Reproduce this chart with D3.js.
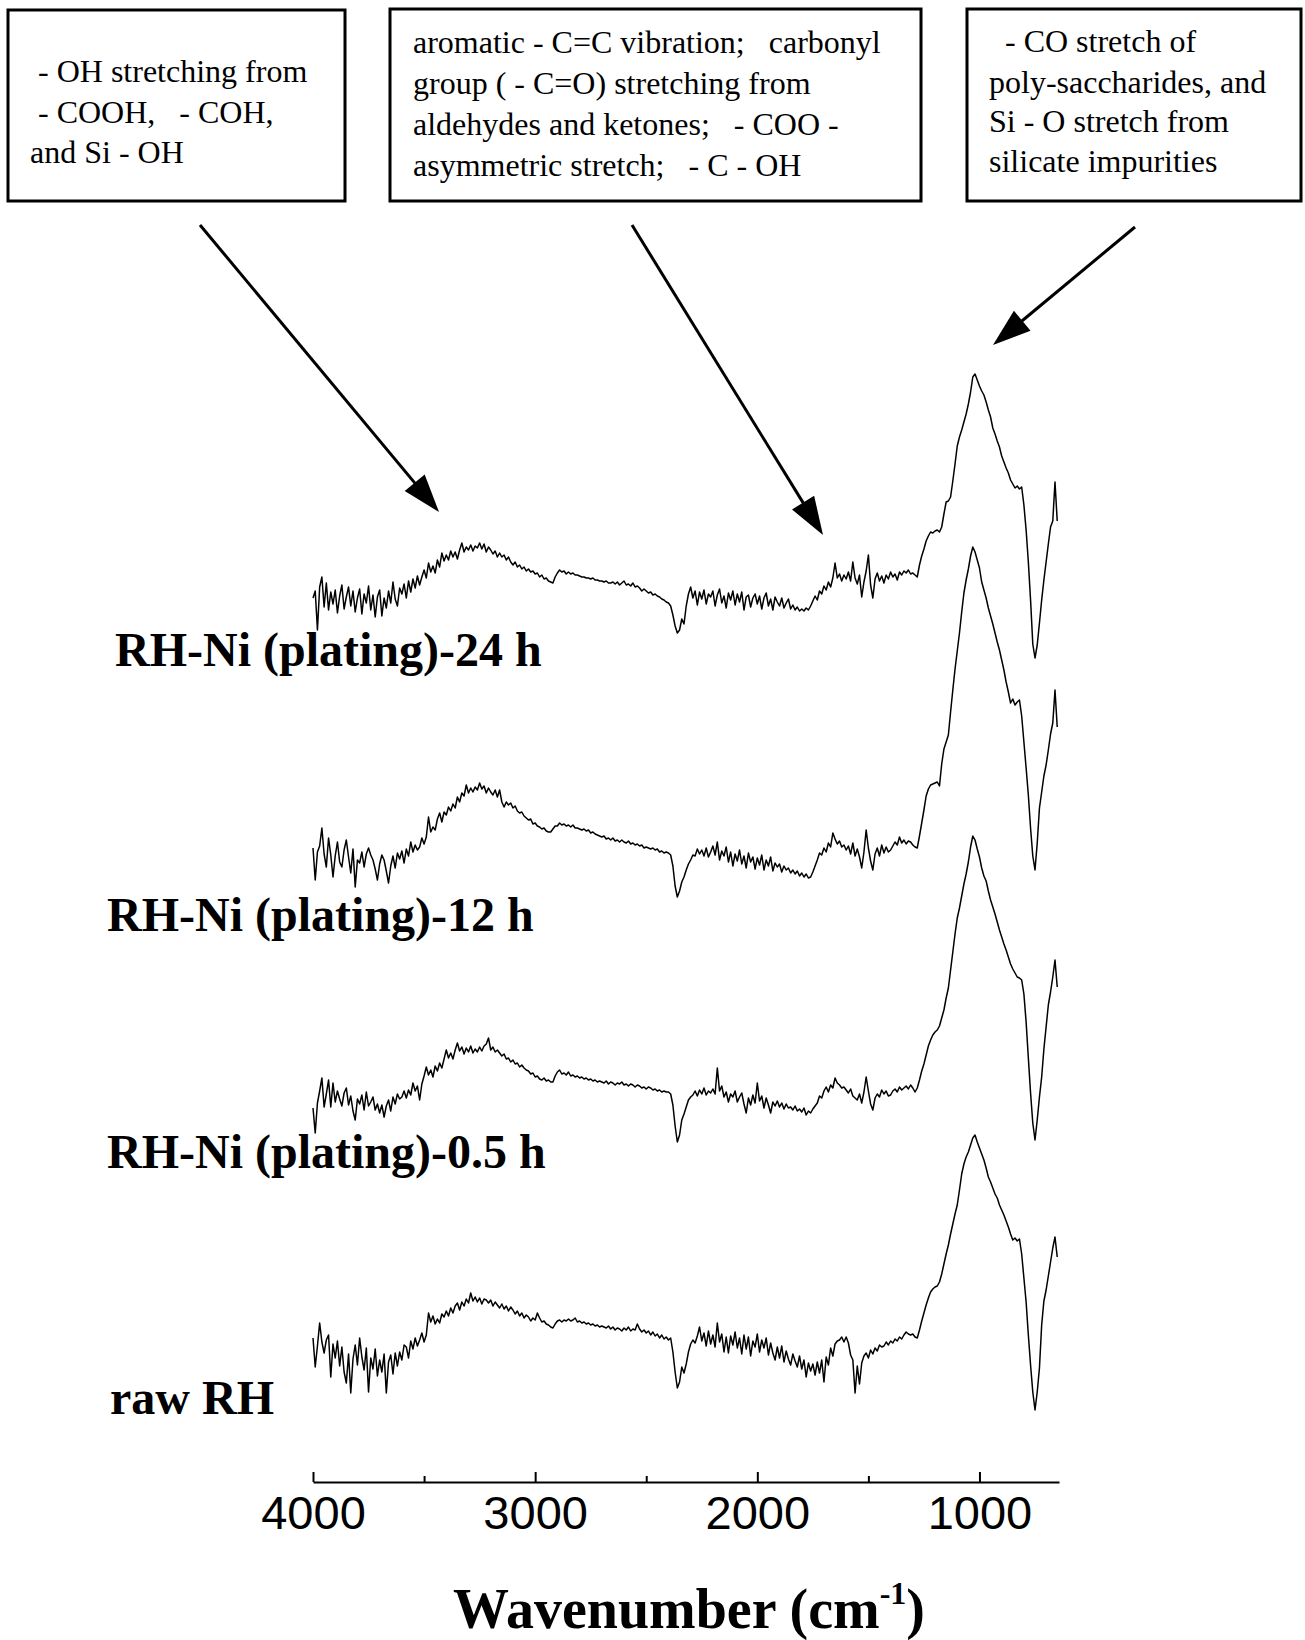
<!DOCTYPE html>
<html>
<head>
<meta charset="utf-8">
<script src="https://cdn.jsdelivr.net/npm/d3@7"></script>
<style>
  body { margin: 0; background: #fff; }
  text { white-space: pre; }
</style>
</head>
<body>
<svg id="chart" width="1305" height="1640"></svg>
<script>
// FTIR spectra of rice husk (RH) before and after Ni plating.
// Wavenumber grid: 4000 -> 650 cm-1 in 10 cm-1 steps (336 points).
const wnStart = 4000;
const wnStep = 10;

const seriesNames = [
  "RH-Ni (plating)-24 h",
  "RH-Ni (plating)-12 h",
  "RH-Ni (plating)-0.5 h",
  "raw RH"
];

// vertical offsets used to stack the spectra (a.u.)
const seriesOffsets = [88.2, 62.4, 38.2, 13.2];

const plating24h = [
  0.2, 0.9, -3.0, 1.3, 2.3, -0.7, 1.7, -1.0, 0.8, -0.4,
  1.0, -1.3, 0.4, 1.5, -0.9, 0.3, 1.3, -0.6, 0.9, -1.2,
  0.2, 1.1, -1.4, 0.6, -0.3, 1.4, -1.0, 0.5, -1.7, 0.3,
  1.0, -1.6, 0.2, -0.8, 0.9, -0.3, 1.8, 0.1, -0.6, 1.2,
  0.6, 1.6, 0.2, 1.9, 0.8, 2.1, 1.2, 2.4, 1.5, 2.3,
  3.0, 2.2, 3.7, 2.8, 3.4, 2.7, 4.0, 3.3, 4.7, 3.9,
  4.5, 4.0, 4.9, 4.3, 4.8, 4.1, 5.0, 5.7, 4.8, 5.3,
  5.0, 5.5, 4.9, 5.4, 5.2, 5.7, 5.1, 5.6, 4.8, 5.3,
  5.0, 4.6, 4.9, 4.3, 4.7, 4.3, 4.5, 4.0, 4.3, 3.8,
  3.5, 3.8, 3.3, 3.5, 3.1, 3.3, 2.9, 3.1, 2.8, 2.9,
  2.6, 2.7, 2.3, 2.5, 2.1, 2.2, 1.9, 1.8, 1.7, 2.3,
  2.7, 3.0, 2.8, 2.9, 2.6, 2.8, 2.6, 2.7, 2.5, 2.5,
  2.4, 2.3, 2.3, 2.2, 2.2, 2.1, 2.2, 2.0, 2.0, 1.9,
  1.9, 1.8, 1.9, 1.7, 1.7, 1.8, 1.6, 1.8, 1.5, 1.7,
  1.9, 1.5, 1.6, 1.4, 1.7, 1.3, 1.4, 1.2, 0.9, 1.1,
  0.9, 0.7, 0.8, 0.5, 0.6, 0.4, 0.3, 0.1, 0.0, -0.2,
  -0.3, -0.6, -1.5, -2.6, -3.3, -3.0, -1.9, -2.4, -0.6, 0.6,
  1.3, 0.2, 0.9, -0.5, 0.8, 0.1, 1.0, -0.4, 0.6, 0.3,
  0.9, -0.6, 0.5, 1.1, -0.3, 0.4, -0.8, 0.7, 0.0, 0.9,
  -0.5, 0.6, -0.2, 0.8, -1.0, 0.3, 0.5, -0.7, 0.2, 0.6,
  -0.4, 0.4, -0.9, 0.2, 0.7, -0.6, 0.1, -1.0, 0.3, -0.2,
  -0.6, 0.2, -0.8, -0.3, 0.1, -0.9, -0.5, -1.0, -0.7, -1.1,
  -0.9, -1.1, -0.8, -1.0, -0.6, -0.1, 0.4, 0.0, 0.9, 0.6,
  1.4, 1.0, 1.8, 1.3, 2.2, 3.7, 2.2, 2.6, 1.9, 2.5,
  2.1, 2.8, 1.9, 3.8, 2.2, 1.6, 2.5, 0.3, 1.8, 2.9,
  4.5, 1.5, 0.2, 2.1, 2.7, 1.9, 2.4, 1.7, 2.5, 2.1,
  2.8, 2.3, 2.6, 2.0, 2.8, 2.5, 2.9, 2.7, 3.0, 2.6,
  2.7, 2.5, 2.3, 3.5, 4.4, 5.1, 5.9, 6.4, 6.8, 6.7,
  6.9, 7.0, 6.8, 7.3, 8.6, 9.8, 9.9, 10.3, 11.9, 13.6,
  15.4, 16.3, 17.0, 17.8, 18.6, 19.6, 20.8, 22.3, 22.6, 22.0,
  21.4, 20.9, 20.5, 19.8, 19.0, 18.3, 17.2, 16.6, 15.9, 15.3,
  14.4, 13.8, 13.2, 12.7, 12.0, 11.6, 11.2, 11.4, 11.1, 11.3,
  9.5, 7.0, 3.8, 0.0, -4.4, -5.8, -4.5, -2.3, 0.0, 2.0,
  3.8, 5.6, 7.3, 7.9, 11.8, 7.9
];

const plating12h = [
  1.0, -2.2, 0.6, 1.2, 3.0, 0.4, -0.9, 2.0, 0.3, -1.9,
  0.2, 1.6, -0.4, -0.9, 0.8, 1.8, 0.1, -1.5, 0.9, -2.9,
  -0.2, -0.5, 0.6, -0.9, 0.4, 1.0, 0.3, -0.2, -1.1, -2.2,
  -0.6, 0.3, -0.2, -1.3, -2.5, -0.8, 0.2, -1.0, 0.5, -0.1,
  0.7, -0.5, 0.9, 0.2, 1.6, 0.6, 1.3, 0.8, 1.1, 2.0,
  1.4, 2.1, 4.1, 2.6, 3.1, 2.8, 3.9, 4.5, 3.6, 4.6,
  4.3, 5.1, 4.7, 5.4, 5.0, 6.1, 5.6, 6.5, 6.2, 7.3,
  6.5, 7.0, 6.6, 7.1, 6.8, 7.5, 6.9, 7.2, 6.5, 7.0,
  6.6, 6.3, 6.8, 6.1, 6.8, 5.6, 5.1, 5.6, 5.3, 5.5,
  5.0, 5.2, 4.7, 4.5, 4.6, 4.2, 4.0, 3.8, 3.9, 3.4,
  3.5, 3.2, 3.1, 2.9, 3.0, 2.7, 2.6, 2.6, 2.9, 3.2,
  3.2, 3.5, 3.3, 3.4, 3.2, 3.3, 3.1, 3.3, 3.0, 3.0,
  2.9, 2.8, 2.9, 2.7, 2.8, 2.5, 2.6, 2.4, 2.3, 2.2,
  2.1, 2.2, 1.9, 2.0, 1.8, 2.0, 1.7, 1.8, 1.6, 1.8,
  1.6, 1.5, 1.7, 1.4, 1.5, 1.3, 1.4, 1.2, 1.3, 1.0,
  1.1, 1.0, 0.9, 1.0, 0.8, 0.9, 0.6, 0.7, 0.5, 0.6,
  0.5, 0.3, -0.8, -2.8, -3.9, -3.3, -2.4, -1.9, -1.2, -0.6,
  -0.2, 0.3, 0.2, 0.9, 0.4, 0.8, 0.2, 1.0, 0.1, 0.6,
  1.2, 0.3, 1.6, -0.2, 0.7, 0.2, 1.1, -0.4, 0.6, -0.8,
  0.4, -0.3, 0.8, -0.6, 0.2, -1.0, 0.5, -0.4, 0.1, -1.1,
  0.0, -0.7, 0.3, -1.2, -0.2, -0.8, 0.1, -1.3, -0.5, -0.9,
  -0.6, -1.4, -0.8, -1.2, -1.0, -1.5, -1.2, -1.6, -1.3, -1.8,
  -1.5, -1.9, -1.6, -2.0, -1.9, -1.4, -0.8, -0.2, 0.5, 0.3,
  1.0, 0.6, 1.5, 1.1, 2.5, 1.9, 1.4, 1.7, 1.1, 1.3,
  0.8, 1.2, 0.4, 1.5, 0.2, 0.9, 0.1, -1.0, 0.6, 2.8,
  1.0, -0.3, -1.2, 0.4, 1.0, 0.2, 1.3, 0.5, 1.1, 0.6,
  0.8, 1.2, 1.6, 1.3, 2.1, 1.5, 1.8, 1.4, 1.7, 1.6,
  1.3, 1.1, 1.0, 2.2, 3.5, 4.8, 6.2, 6.9, 7.3, 7.4,
  7.5, 7.6, 7.2, 9.4, 10.9, 11.6, 12.3, 14.6, 16.8, 18.9,
  20.7, 22.5, 24.6, 26.5, 27.8, 28.9, 30.2, 31.1, 30.6, 29.8,
  29.0, 27.6, 26.8, 26.0, 25.0, 24.2, 23.4, 22.5, 21.6, 20.8,
  19.8, 18.8, 17.6, 16.6, 15.5, 15.9, 15.3, 15.6, 15.8, 14.2,
  11.6, 9.0, 6.3, 3.0, 0.2, -1.2, 1.5, 5.0, 6.6, 8.2,
  9.3, 10.8, 12.4, 13.5, 16.8, 13.1
];

const plating05h = [
  -0.8, -3.3, -0.3, 0.9, 2.2, -0.7, 0.6, 2.0, -0.7, 1.7,
  -0.2, 0.9, 0.1, -0.6, 0.7, 1.2, -0.5, 0.4, -1.1, -2.0,
  0.1, -0.4, 0.5, -1.0, 0.8, -0.6, -0.2, 0.3, -1.0, -0.4,
  -1.3, -0.5, -1.7, -0.6, 0.0, -1.1, 0.3, -0.4, 0.6, 0.1,
  0.3, 0.9, 0.2, 1.0, 0.5, 1.7, 0.9, 1.4, 0.0, 1.6,
  2.4, 3.3, 2.5, 3.0, 2.3, 3.4, 2.9, 3.7, 3.2, 4.1,
  5.0, 4.2, 4.7, 4.1, 5.0, 5.7, 4.9, 5.3, 4.6, 5.2,
  4.8, 5.4, 4.7, 5.1, 4.8, 5.3, 4.9, 5.4, 5.6, 6.2,
  5.0, 5.3, 4.8, 5.0, 4.7, 4.4, 4.6, 4.1, 4.2, 3.8,
  4.0, 3.6, 3.7, 3.3, 3.5, 3.2, 3.0, 2.9, 2.6, 2.7,
  2.3, 2.4, 2.1, 2.0, 2.2, 1.9, 2.0, 1.8, 1.8, 2.4,
  2.8, 3.0, 2.6, 2.7, 2.5, 2.8, 2.4, 2.5, 2.3, 2.4,
  2.2, 2.3, 2.1, 2.2, 2.0, 2.1, 1.9, 2.0, 1.8, 1.9,
  1.8, 1.7, 1.9, 1.6, 1.8, 1.7, 1.5, 1.7, 1.6, 1.8,
  1.5, 1.6, 1.4, 1.6, 1.5, 1.3, 1.5, 1.4, 1.2, 1.3,
  1.1, 1.3, 1.2, 1.0, 1.1, 0.9, 1.0, 0.8, 0.9, 0.8,
  0.8, 0.6, -0.5, -2.6, -4.2, -3.5, -2.0, -1.4, -0.7, 0.0,
  0.3, 0.5, 0.9, 0.4, 1.0, 0.6, 1.2, 0.5, 0.9, 0.7,
  1.1, 0.6, 3.2, 0.9, 1.4, 0.3, 0.8, -0.2, 0.6, 0.3,
  0.9, -0.2, 0.3, 0.7, -0.4, -1.3, 0.2, -0.5, 0.5, -0.3,
  1.7, -0.1, 0.4, -0.8, 0.2, -0.5, -1.3, -0.2, -0.6, -0.1,
  -0.7, -0.3, -0.9, -0.4, -0.8, -0.7, -1.0, -0.6, -1.1, -0.9,
  -1.2, -0.8, -1.5, -1.1, -1.3, -0.9, -0.6, -0.3, 0.4, 0.2,
  0.9, 1.3, 0.8, 1.5, 1.2, 2.2, 1.7, 1.5, 1.2, 1.3,
  1.0, 0.7, 1.1, 0.4, 0.2, 0.0, 0.6, -0.3, 0.8, 2.3,
  0.9, -0.4, -1.0, 0.2, 0.6, 0.3, 1.0, 0.6, 0.9, 0.4,
  0.5, 0.9, 1.1, 0.8, 1.3, 1.0, 1.2, 1.4, 1.1, 1.5,
  1.2, 0.8, 1.2, 2.0, 2.9, 3.6, 4.5, 5.4, 6.0, 6.5,
  6.8, 7.0, 7.4, 8.2, 9.0, 10.2, 11.2, 13.0, 14.8, 16.6,
  18.2, 19.2, 20.4, 21.6, 22.6, 23.8, 25.3, 26.4, 26.0, 25.1,
  24.3, 23.2, 22.4, 21.9, 20.9, 20.0, 19.3, 18.6, 17.8, 17.0,
  16.3, 15.6, 15.0, 14.3, 13.6, 13.1, 12.7, 12.3, 12.2, 12.0,
  10.6, 7.8, 4.2, 0.7, -2.3, -4.0, -2.0, 0.3, 2.3, 5.1,
  7.3, 9.5, 10.8, 12.3, 14.0, 11.3
];

const rawRH = [
  1.2, -1.7, 0.4, 2.7, 0.8, -0.3, 1.0, 1.5, -2.7, 0.6,
  -0.8, 0.9, -1.6, 0.3, -2.2, -3.3, -0.4, -4.3, -0.9, 0.5,
  -1.5, 1.2, -0.7, -2.0, 0.2, -4.2, -0.8, -1.9, 0.1, -2.6,
  -1.0, -2.2, -0.4, -4.3, -1.2, -0.5, -2.4, -0.3, -1.6, -0.2,
  -1.0, 0.5, 0.3, -0.8, 0.9, 0.1, 1.2, 0.4, 1.0, 1.7,
  0.8, 1.5, 3.7, 2.8, 3.4, 2.6, 3.1, 2.7, 3.6, 3.3,
  3.9, 3.4, 4.2, 3.7, 4.4, 4.7, 4.0, 4.8, 4.4, 5.1,
  4.7, 5.7, 4.9, 5.3, 4.8, 5.2, 4.6, 5.1, 5.0, 4.7,
  5.0, 4.4, 4.8, 4.5, 4.2, 4.6, 4.1, 4.4, 3.9, 4.3,
  4.0, 3.6, 3.9, 3.4, 3.7, 3.2, 3.5, 3.3, 2.9, 3.2,
  3.0, 3.7, 3.2, 2.8, 2.9, 2.6, 2.5, 2.3, 2.2, 2.6,
  2.9, 3.0, 2.8, 3.0, 2.9, 3.1, 2.9, 3.0, 3.2, 2.8,
  2.9, 2.7, 2.8, 2.6, 2.7, 2.5, 2.6, 2.4, 2.5, 2.3,
  2.4, 2.3, 2.2, 2.4, 2.1, 2.3, 2.0, 2.2, 2.1, 1.9,
  2.2, 2.0, 2.3, 1.9, 2.1, 2.0, 2.6, 2.1, 1.8, 2.0,
  1.7, 1.9, 1.5, 1.8, 1.4, 1.6, 1.2, 1.5, 1.1, 1.3,
  1.0, 1.2, -0.2, -2.2, -3.8, -3.2, -1.7, -2.3, -1.4, -0.2,
  0.6, 1.0, 0.7, 1.4, 2.3, 0.9, 1.7, 0.4, 1.9, 0.6,
  1.5, 0.3, 2.7, 0.8, 1.6, -0.2, 1.3, -0.3, 1.4, 0.5,
  1.8, 0.2, 1.2, -0.4, 1.5, 0.1, 1.3, -0.6, 0.9, 0.3,
  1.6, -0.2, 1.0, 0.2, 1.2, -0.5, 0.7, -0.3, -1.0, 0.3,
  -0.8, 0.4, -1.2, -0.1, -0.9, -1.5, -0.4, -1.1, -1.7, -0.6,
  -1.9, -1.0, -2.7, -1.3, -2.1, -1.4, -2.5, -1.2, -2.3, -1.0,
  -3.2, -0.7, -1.5, 0.2, -0.6, 0.6, 0.9, 1.0, 1.3, 0.8,
  1.3, 0.7, -0.5, -1.0, -4.3, -1.6, -3.4, -1.3, -0.6, -0.3,
  -0.8, 0.0, -0.4, 0.2, -0.1, 0.5, 0.3, 0.4, 0.8, 0.5,
  0.9, 0.7, 1.1, 0.9, 1.3, 1.1, 1.5, 1.8, 1.6, 1.5,
  1.6, 1.3, 1.2, 2.0, 2.9, 3.7, 4.5, 5.2, 5.8, 6.1,
  6.3, 6.4, 6.8, 7.6, 8.6, 9.6, 10.5, 11.6, 12.6, 13.6,
  14.5, 16.0, 17.6, 18.6, 19.3, 19.8, 20.5, 21.2, 21.5, 20.8,
  20.2, 19.6, 19.0, 18.2, 17.3, 16.8, 16.2, 15.6, 15.2, 14.5,
  14.0, 13.5, 12.9, 12.3, 11.6, 11.0, 11.2, 10.9, 11.1, 9.6,
  7.2, 4.8, 1.5, -1.5, -4.2, -6.0, -4.2, -1.8, 2.5, 4.9,
  6.0, 7.4, 8.8, 10.2, 11.3, 9.3
];

const seriesValues = [plating24h, plating12h, plating05h, rawRH];

const majorTicks = [4000, 3000, 2000, 1000];
const minorTicks = [3500, 2500, 1500];

const annotationLines = [
  [" - OH stretching from", " - COOH,   - COH,", "and Si - OH"],
  ["aromatic - C=C vibration;   carbonyl", "group ( - C=O) stretching from",
   "aldehydes and ketones;   - COO -", "asymmetric stretch;   - C - OH"],
  ["  - CO stretch of", "poly-saccharides, and", "Si - O stretch from", "silicate impurities"]
];

// ---------- layout ----------
const svg = d3.select("#chart");
const serif = "'Liberation Serif', 'Times New Roman', Times, serif";
const sans = "'Liberation Sans', Arial, Helvetica, sans-serif";

const x = d3.scaleLinear().domain([4000, 642]).range([313, 1059]);
const y = d3.scaleLinear().domain([0, 115]).range([1482, 332]);

const wavenumbers = d3.range(plating24h.length).map(i => wnStart - i * wnStep);

// ---------- spectra ----------
const line = d3.line()
  .x(d => x(d[0]))
  .y(d => y(d[1]));

seriesValues.forEach((vals, i) => {
  const pts = vals.map((v, j) => [wavenumbers[j], v + seriesOffsets[i]]);
  svg.append("path")
    .attr("d", line(pts))
    .attr("fill", "none")
    .attr("stroke", "#000")
    .attr("stroke-width", 1.5)
    .attr("stroke-linejoin", "round");
});

// ---------- series labels ----------
const labelPos = [[115, 666], [107, 931], [107, 1168], [110, 1414]];
seriesNames.forEach((name, i) => {
  svg.append("text")
    .attr("x", labelPos[i][0])
    .attr("y", labelPos[i][1])
    .attr("font-family", serif)
    .attr("font-weight", "bold")
    .attr("font-size", 48)
    .attr("fill", "#000")
    .text(name);
});

// ---------- x axis ----------
const axisG = svg.append("g").attr("transform", `translate(0,${y(0)})`);
axisG.call(
  d3.axisBottom(x)
    .tickValues(majorTicks)
    .tickSizeInner(-10)
    .tickSizeOuter(0)
    .tickPadding(14)
    .tickFormat(d3.format("d"))
);
axisG.select(".domain").attr("stroke", "#000").attr("stroke-width", 2);
axisG.selectAll(".tick line").attr("stroke", "#000").attr("stroke-width", 2);
axisG.selectAll(".tick text")
  .attr("font-family", sans)
  .attr("font-size", 47)
  .attr("fill", "#000");

const minorG = svg.append("g").attr("transform", `translate(0,${y(0)})`);
minorG.call(
  d3.axisBottom(x)
    .tickValues(minorTicks)
    .tickSizeInner(-6)
    .tickSizeOuter(0)
    .tickFormat("")
);
minorG.select(".domain").remove();
minorG.selectAll(".tick line").attr("stroke", "#000").attr("stroke-width", 2);

// axis title
const title = svg.append("text")
  .attr("x", 689)
  .attr("y", 1628)
  .attr("text-anchor", "middle")
  .attr("font-family", serif)
  .attr("font-weight", "bold")
  .attr("font-size", 56)
  .attr("fill", "#000");
title.append("tspan").text("Wavenumber (cm");
title.append("tspan").attr("dy", -24).attr("font-size", 32).text("-1");
title.append("tspan").attr("dy", 24).text(")");

// ---------- annotation boxes ----------
const boxes = [
  { x: 8, y: 10, w: 337, h: 191, tx: 30, lines: [82, 123, 163] },
  { x: 390, y: 9, w: 531, h: 192, tx: 413, lines: [53, 94, 135, 176] },
  { x: 967, y: 9, w: 334, h: 192, tx: 989, lines: [52, 93, 132, 172] }
];
boxes.forEach((b, i) => {
  svg.append("rect")
    .attr("x", b.x).attr("y", b.y)
    .attr("width", b.w).attr("height", b.h)
    .attr("fill", "#fff")
    .attr("stroke", "#000")
    .attr("stroke-width", 3);
  annotationLines[i].forEach((t, k) => {
    svg.append("text")
      .attr("x", b.tx)
      .attr("y", b.lines[k])
      .attr("font-family", serif)
      .attr("font-size", 32)
      .attr("fill", "#000")
      .text(t);
  });
});

// ---------- arrows ----------
const arrows = [
  [[200, 225], [439, 512]],
  [[632, 225], [823, 535]],
  [[1135, 227], [993, 345]]
];
const headLen = 38, headHalf = 13;
arrows.forEach(([s, e]) => {
  const dx = e[0] - s[0], dy = e[1] - s[1];
  const len = Math.hypot(dx, dy);
  const ux = dx / len, uy = dy / len;
  const bx = e[0] - ux * headLen, by = e[1] - uy * headLen;
  svg.append("line")
    .attr("x1", s[0]).attr("y1", s[1])
    .attr("x2", bx + ux * 2).attr("y2", by + uy * 2)
    .attr("stroke", "#000")
    .attr("stroke-width", 3);
  const pts = [
    [e[0], e[1]],
    [bx - uy * headHalf, by + ux * headHalf],
    [bx + uy * headHalf, by - ux * headHalf]
  ];
  svg.append("path")
    .attr("d", "M" + pts.map(p => p.join(",")).join("L") + "Z")
    .attr("fill", "#000");
});
</script>
</body>
</html>
